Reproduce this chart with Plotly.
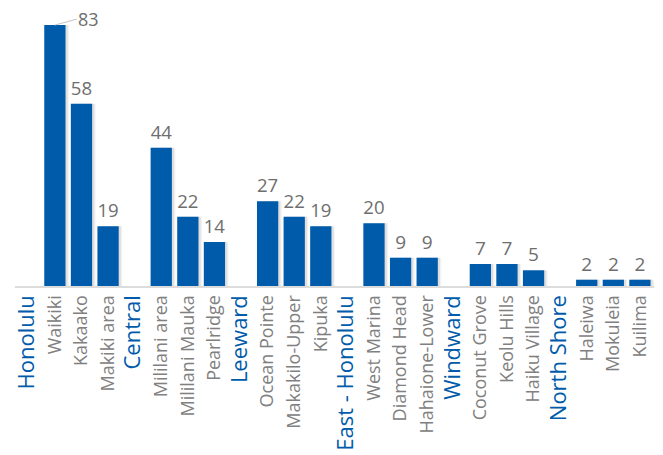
import plotly.graph_objects as go

regions = ["Honolulu", "Central", "Leeward", "East - Honolulu", "Windward", "North Shore"]
areas = [
    ["Waikiki", "Kakaako", "Makiki area"],
    ["Mililani area", "Mililani Mauka", "Pearlridge"],
    ["Ocean Pointe", "Makakilo-Upper", "Kipuka"],
    ["West Marina", "Diamond Head", "Hahaione-Lower"],
    ["Coconut Grove", "Keolu Hills", "Haiku Village"],
    ["Haleiwa", "Mokuleia", "Kuilima"],
]
values = [
    [83, 58, 19],
    [44, 22, 14],
    [27, 22, 19],
    [20, 9, 9],
    [7, 7, 5],
    [2, 2, 2],
]

BLUE = "#005BAA"
GRAY = "#808080"
VAL = "#6e6e6e"

xs, ys, texts, ticktext = [], [], [], []
for r, names, vals in zip(regions, areas, values):
    xs.append(r)
    ys.append(None)
    texts.append("")
    ticktext.append(f'<span style="color:{BLUE};font-size:22px">{r}</span>')
    for n, v in zip(names, vals):
        xs.append(n)
        ys.append(v)
        texts.append(str(v))
        ticktext.append(n)

max_v = max(y for y in ys if y is not None)
bar_text = ["" if (y == max_v) else t for y, t in zip(ys, texts)]

fig = go.Figure()
# soft shadow layers
for off, alpha in [(-0.27, 0.05), (-0.32, 0.08)]:
    fig.add_trace(go.Bar(
        x=xs, y=ys, width=0.8, offset=off,
        marker=dict(color=f"rgba(0,0,0,{alpha})", line=dict(width=0)),
        hoverinfo="skip",
    ))
fig.add_trace(go.Bar(
    x=xs, y=ys, width=0.8, offset=-0.4, text=bar_text, textposition="outside",
    textfont=dict(color=VAL, size=19, family="Open Sans"),
    marker=dict(color=BLUE, line=dict(width=0)),
    cliponaxis=False, hoverinfo="skip",
))
imax = ys.index(max_v)
fig.add_annotation(
    x=xs[imax], y=max_v, text=str(max_v), showarrow=True, arrowhead=0,
    arrowcolor="#c4c4c4", arrowwidth=1, ax=22, ay=-6, xanchor="left",
    borderpad=0, font=dict(color=VAL, size=18, family="Open Sans"),
)

fig.update_layout(
    width=655, height=447,
    margin=dict(l=2, r=9, t=2, b=169),
    paper_bgcolor="white", plot_bgcolor="white",
    barmode="overlay", showlegend=False,
    font=dict(family="Open Sans"),
)
fig.update_xaxes(
    type="category", tickmode="array", tickvals=xs, ticktext=ticktext,
    tickangle=-90, tickfont=dict(color=GRAY, size=18, family="Open Sans"),
    showline=True, linecolor="#dcdcdc", linewidth=2, ticks="", showgrid=False,
)
fig.update_yaxes(range=[0, 87.8], visible=False, showgrid=False)

fig.write_html("out.html")
